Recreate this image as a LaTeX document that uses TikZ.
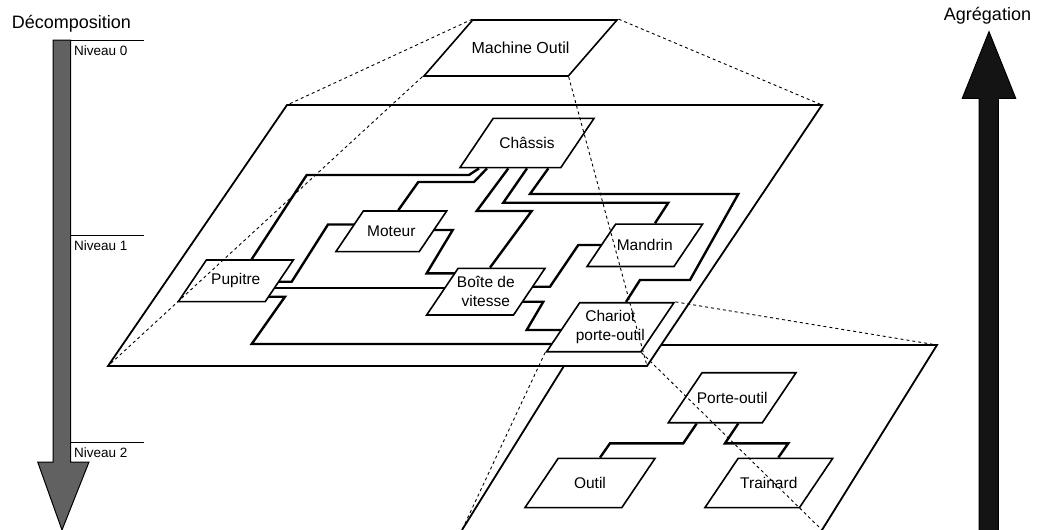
\documentclass[tikz,border=0pt]{standalone}
\usepackage{fontspec}
\setmainfont{Liberation Sans}
\usetikzlibrary{shapes.geometric, calc}
\definecolor{decfill}{gray}{0.38}
\definecolor{agrfill}{gray}{0.08}
\pgfdeclarelayer{planes}
\pgfdeclarelayer{links}
\pgfsetlayers{planes,links,main}
\tikzset{
  para/.style     = {trapezium, trapezium left angle=56, trapezium right angle=124,
                     trapezium stretches body, draw, fill=white, line width=1.6pt,
                     inner xsep=0pt},
  dims/.style 2 args = {minimum width=#1, inner ysep=#2},
  lbl/.style      = {font=\fontsize{15.5}{19}\selectfont, align=center, inner sep=0pt},
  plane/.style    = {draw, fill=white, line width=1.8pt},
  link/.style     = {line width=2.4pt},
  proj/.style     = {dashed, line width=0.9pt},
  niv/.style      = {font=\fontsize{13.5}{16}\selectfont, anchor=west, inner sep=0pt},
  levelrule/.style= {line width=0.8pt},
  axislbl/.style  = {font=\fontsize{18}{21}\selectfont, inner sep=0pt},
  bigarrow/.style = {draw, line width=1pt, line join=miter},
}

\begin{document}
\begin{tikzpicture}[x=1pt, y=-1pt]
  \useasboundingbox (0,0) rectangle (1037,530);
  % planes
  \coordinate (p1nw) at (287,105);  \coordinate (p1ne) at (822,105);
  \coordinate (p1se) at (647,366);  \coordinate (p1sw) at (108,366);
  \coordinate (p2nw) at (577,345);  \coordinate (p2ne) at (937,345);
  \coordinate (p2se) at (822,530);  \coordinate (p2sw) at (462,530);
  \begin{pgfonlayer}{planes}
    \draw[plane] (p2sw) -- (p2nw) -- (p2ne) -- (p2se);
    \draw[plane] (p1nw) -- (p1ne) -- (p1se) -- (p1sw) -- cycle;
  \end{pgfonlayer}

  % niveau 0
  \node[para, dims={193pt}{28pt}, trapezium left angle=49, trapezium right angle=131,
    label={[lbl, font=\fontsize{16}{19}\selectfont]center:Machine Outil}] (mo) at (520.5,48) {};
  % niveau 1
  \node[para, dims={134pt}{24.6pt}, label={[lbl]center:Châssis}] (cha) at (527,143) {};
  \node[para, dims={110.7pt}{20.3pt}, label={[lbl]center:Moteur}] (mot) at (391.3,231.3) {};
  \node[para, dims={115pt}{20.8pt}, label={[lbl]center:Pupitre}] (pup) at (235.8,280.8) {};
  \node[para, dims={118.3pt}{23.3pt},
    label={[lbl]center:{Boîte de\\vitesse}}] (bv) at (485.8,291.7) {};
  \node[para, dims={115.5pt}{21.2pt}, label={[lbl]center:Mandrin}] (man) at (644.8,245.3) {};
  \node[para, dims={127.3pt}{24.5pt},
    label={[lbl]center:{Chariot\\porte-outil}}] (car) at (610.3,327.2) {};
  % niveau 2
  \node[para, dims={127.7pt}{25pt}, label={[lbl]center:Porte-outil}] (po) at (732.2,397.7) {};
  \node[para, dims={130pt}{24.6pt}, label={[lbl]center:Outil}] (out) at (590,483) {};
  \node[para, dims={127.7pt}{24.6pt}, label={[lbl]center:Trainard}] (tra) at (768.8,483) {};

  % liaisons
  \begin{pgfonlayer}{links}
    \draw[link] (pup.north -| 251.7,0) -- (306.7,175) -- (469,175) -- (cha.south -| 479,0);
    \draw[link] (pup.center |- 0,281.7) -- (291.7,281.7) -- (328,224.5) -- (mot.center |- 0,224.5);
    \draw[link] (pup.center |- 0,288) -- (bv.center |- 0,288);
    \draw[link] (pup.center |- 0,296.7) -- (285,296.7) -- (251.7,344) -- (car.center |- 0,344);
    \draw[link] (mot.north -| 398.3,0) -- (418.3,182) -- (474,182) -- (cha.south -| 487,0);
    \draw[link] (mot.center |- 0,230) -- (452.7,230) -- (426.7,273.3) -- (bv.center |- 0,273.3);
    \draw[link] (cha.south -| 508.3,0) -- (476.7,211) -- (531.7,211) -- (bv.north -| 490,0);
    \draw[link] (cha.south -| 527,0) -- (503.3,202.7) -- (668.3,202.7) -- (man.north -| 655,0);
    \draw[link] (cha.south -| 548.3,0) -- (530,194) -- (738.3,194) -- (690,280) -- (640,280)
      -- (car.north -| 626,0);
    \draw[link] (bv.center |- 0,286.7) -- (550,286.7) -- (578.3,245) -- (man.center |- 0,245);
    \draw[link] (bv.center |- 0,301.7) -- (543.3,301.7) -- (526.7,330) -- (car.center |- 0,330);
    \draw[link] (po.south -| 696.7,0) -- (683.3,443.3) -- (610,443.3) -- (out.north -| 600,0);
    \draw[link] (po.south -| 738.3,0) -- (725,443.3) -- (788.3,443.3) -- (tra.north -| 778.3,0);
  \end{pgfonlayer}

  % projections
  \foreach \a/\b in {top left corner/p1nw, top right corner/p1ne,
                     bottom left corner/p1sw, bottom right corner/p1se}
    \draw[proj] (mo.\a) -- (\b);
  \foreach \a/\b in {top right corner/p2ne, bottom left corner/p2sw,
                     bottom right corner/p2se}
    \draw[proj] (car.\a) -- (\b);

  % axes
  \draw[bigarrow, fill=decfill] (53,40) -- (70.7,40) -- (70.7,462) -- (89,462) -- (62,530)
    -- (37.7,462) -- (53,462) -- cycle;
  \draw[bigarrow, fill=agrfill] (979,531) -- (979,98.3) -- (962.3,98.3) -- (989,31.7)
    -- (1015.7,98.3) -- (998.3,98.3) -- (998.3,531);
  \node[axislbl] (dec) at (71.5,24) {Décomposition};
  \node[axislbl] (agr) at (987.5,16) {Agrégation};
  \foreach \n/\y in {0/40, 1/235, 2/442}{
    \draw[levelrule] (71,\y) -- (144,\y);
    \node[niv] (niv\n) at (74,\y+10.5) {Niveau \n};
  }
\end{tikzpicture}
\end{document}
